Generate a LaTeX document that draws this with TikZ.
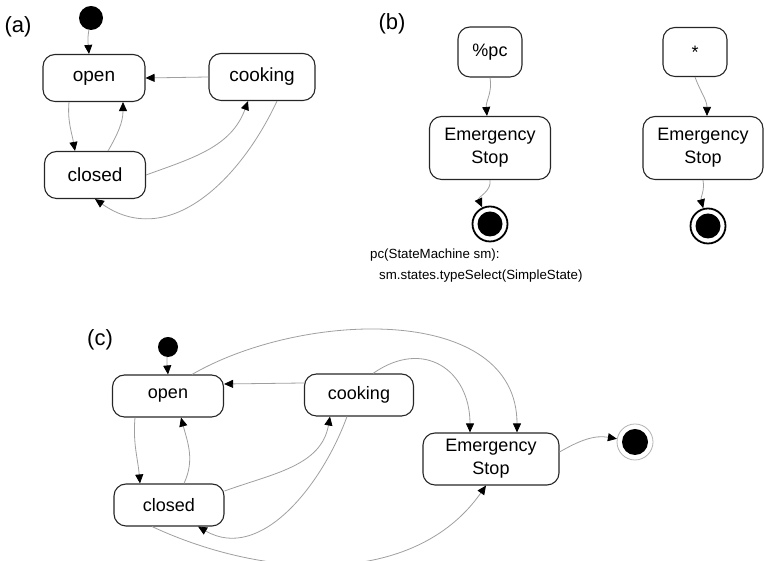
\documentclass[tikz,border=0pt]{standalone}
\usepackage{fontspec}
\setmainfont{Liberation Sans}
\usepackage{tikz}
\usetikzlibrary{arrows.meta}
\newcommand{\fs}[1]{\fontsize{#1}{#1}\selectfont}

\begin{document}
\begin{tikzpicture}[x=1pt, y=1pt,
  state/.style={draw=black!85, line width=1.1pt, rounded corners=12pt, inner sep=0pt, align=center, font=\fontsize{18}{23}\selectfont},
  tr/.style={draw=gray!75, line width=0.8pt, -{Triangle[black, length=9pt, width=8pt]}},
  init/.style={circle, fill=black, inner sep=0pt},
  fin/.style={circle, draw, inner sep=0pt, minimum size=35pt},
  lbl/.style={font=\fs{22}}]
\useasboundingbox (0, 0) rectangle (764, 561);

% (a)
\node[lbl] (la) at (18, 534) {(a)};
\node[init, minimum size=24pt] (aI) at (91, 543) {};
\node[state, minimum width=102pt, minimum height=47pt, font=\fs{19}] (aO) at (94, 483) {open};
\node[state, minimum width=106pt, minimum height=47pt, font=\fs{19}] (aK) at (262, 484) {cooking};
\node[state, minimum width=101pt, minimum height=47pt, font=\fs{19}] (aC) at (95, 386) {closed};
\draw[tr] (aI) to[out=-100, in=95] ([xshift=-5pt]aO.north);
\draw[tr] (aK.west) -- (aO.east);
\draw[tr] ([xshift=-25pt]aO.south) to[out=-95, in=100] ([xshift=-20pt]aC.north);
\draw[tr] ([xshift=13pt]aC.north) to[out=60, in=-90] ([xshift=29pt]aO.south);
\draw[tr] (aC.east) to[out=20, in=-110] ([xshift=-14pt]aK.south);
\draw[tr] ([xshift=15pt]aK.south) to[out=-115, in=-35, looseness=1.1] (aC.south);

% (b)
\node[lbl] (lb) at (392, 537) {(b)};
\node[state, minimum width=64pt, minimum height=50pt] (bP) at (490, 509) {\%pc};
\node[state, minimum width=121pt, minimum height=63pt] (bE1) at (490, 413) {Emergency\\Stop};
\node[fin, line width=1.8pt] (bF1) at (490, 337) {};
\fill (bF1.center) circle (12.5pt);
\node[state, minimum width=64pt, minimum height=49pt] (bS) at (695, 509) {*};
\node[state, minimum width=120pt, minimum height=63pt] (bE2) at (703, 413) {Emergency\\Stop};
\node[fin, line width=1.8pt] (bF2) at (708, 335) {};
\fill (bF2.center) circle (12.5pt);
\draw[tr] (bP.south) to[out=-80, in=95] ([xshift=-3pt]bE1.north);
\draw[tr] (bE1.south) to[out=-80, in=115] (bF1);
\draw[tr] (bS.south) to[out=-70, in=90] ([xshift=4pt]bE2.north);
\draw[tr] (bE2.south) to[out=-80, in=105] (bF2);
\node[anchor=north west, align=left, font=\fontsize{13.3}{21}\selectfont, inner sep=0pt] (pcdef) at (370, 312)
  {pc(StateMachine sm):\\\hspace*{9pt}sm.states.typeSelect(SimpleState)};

% (c)
\node[lbl] (lc) at (100, 221) {(c)};
\node[init, minimum size=20pt] (cI) at (168, 214) {};
\node[state, minimum width=111pt, minimum height=42pt] (cO) at (168, 165) {open};
\node[state, minimum width=109pt, minimum height=42pt] (cK) at (359, 166) {cooking};
\node[state, minimum width=110pt, minimum height=42pt] (cC) at (169, 56) {closed};
\node[state, minimum width=136pt, minimum height=52pt] (cE) at (491, 102) {Emergency\\Stop};
\node[fin, draw=gray!60, line width=0.8pt, minimum size=36pt] (cF) at (635, 119) {};
\fill (cF.center) circle (13pt);
\draw[tr] (cI) to[out=-95, in=95] (cO.north);
\draw[tr] ([yshift=12pt]cK.west) -- ([yshift=12pt]cO.east);
\draw[tr] ([xshift=-33pt]cO.south) to[out=-95, in=95] ([xshift=-29pt]cC.north);
\draw[tr] ([xshift=15pt]cC.north) to[out=65, in=-75] ([xshift=13pt]cO.south);
\draw[tr] ([yshift=14pt]cC.east) to[out=20, in=-100] ([xshift=-29pt]cK.south);
\draw[tr] ([xshift=-12pt]cK.south) to[out=-110, in=-30] ([xshift=29pt]cC.south);
\draw[tr] ([xshift=24pt]cO.north) to[out=30, in=90] ([xshift=26pt]cE.north);
\draw[tr] ([xshift=14pt]cK.north) to[out=35, in=90, looseness=1.4] ([xshift=-21pt]cE.north);
\draw[tr] ([xshift=-17pt]cC.south) to[out=-25, in=-125, looseness=0.95] ([xshift=-5pt]cE.south);
\draw[tr] ([yshift=7pt]cE.east) to[out=30, in=170] (cF);
\end{tikzpicture}
\end{document}
